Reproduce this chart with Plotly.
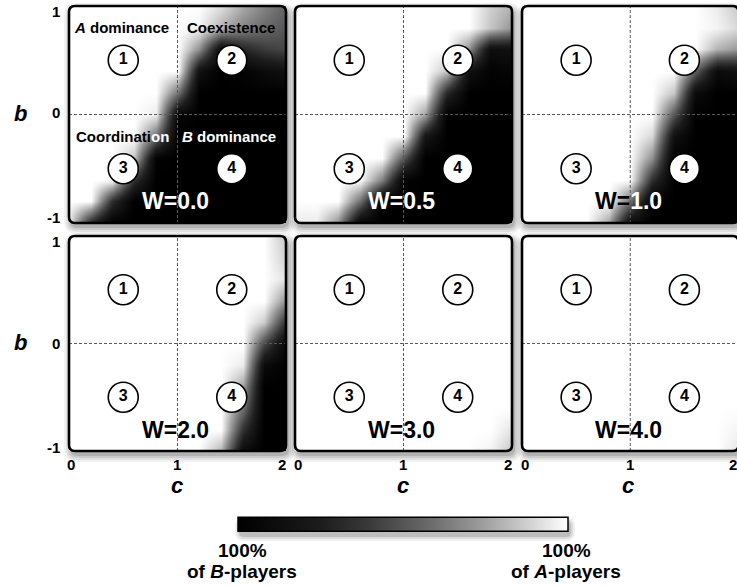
import plotly.graph_objects as go

W_PX, H_PX = 737, 586

# ---------------- data ----------------
C_VALUES = [0.0, 0.2, 0.4, 0.6, 0.8, 1.0, 1.2, 1.4, 1.6, 1.8, 2.0]
B_VALUES_TOP_DOWN = [1.0, 0.8, 0.6, 0.4, 0.2, 0.0, -0.2, -0.4, -0.6, -0.8, -1.0]
W_LABELS = ["W=0.0", "W=0.5", "W=1.0", "W=2.0", "W=3.0", "W=4.0"]

# fraction of A-players (1 = 100% A, 0 = 100% B); rows from b=1 (top) to b=-1 (bottom)
Z_W00 = [
    [1, 1, 1, 1, 1, 1, 1, 0.92, 0.78, 0.66, 0.55],
    [1, 1, 1, 1, 1, 1, 0.97, 0.80, 0.66, 0.58, 0.50],
    [1, 1, 1, 1, 1, 1, 0.70, 0.10, 0.30, 0.40, 0.45],
    [1, 1, 1, 1, 1, 1, 0.15, 0, 0.03, 0.10, 0.15],
    [1, 1, 1, 1, 1, 0.60, 0, 0, 0, 0, 0],
    [1, 1, 1, 1, 0.95, 0.05, 0, 0, 0, 0, 0],
    [1, 1, 1, 1, 0.60, 0, 0, 0, 0, 0, 0],
    [1, 1, 1, 0.85, 0.02, 0, 0, 0, 0, 0, 0],
    [1, 1, 1, 0.35, 0, 0, 0, 0, 0, 0, 0],
    [1, 1, 0.35, 0, 0, 0, 0, 0, 0, 0, 0],
    [0.95, 0.30, 0, 0, 0, 0, 0, 0, 0, 0, 0],
]
Z_W05 = [
    [1, 1, 1, 1, 1, 1, 1, 1, 1, 0.88, 0.80],
    [1, 1, 1, 1, 1, 1, 1, 1, 1, 0.85, 0.72],
    [1, 1, 1, 1, 1, 1, 1, 1, 0.70, 0.12, 0.15],
    [1, 1, 1, 1, 1, 1, 1, 0.85, 0.15, 0.02, 0.05],
    [1, 1, 1, 1, 1, 1, 1, 0.30, 0, 0, 0],
    [1, 1, 1, 1, 1, 1, 0.75, 0, 0, 0, 0],
    [1, 1, 1, 1, 1, 1, 0.20, 0, 0, 0, 0],
    [1, 1, 1, 1, 1, 0.50, 0, 0, 0, 0, 0],
    [1, 1, 1, 1, 0.65, 0.02, 0, 0, 0, 0, 0],
    [1, 1, 1, 0.60, 0, 0, 0, 0, 0, 0, 0],
    [0.95, 0.95, 0.70, 0.05, 0, 0, 0, 0, 0, 0, 0],
]
Z_W10 = [
    [1, 1, 1, 1, 1, 1, 1, 1, 1, 0.95, 0.85],
    [1, 1, 1, 1, 1, 1, 1, 1, 1, 0.97, 0.90],
    [1, 1, 1, 1, 1, 1, 1, 1, 1, 0.80, 0.72],
    [1, 1, 1, 1, 1, 1, 1, 1, 0.55, 0.10, 0.15],
    [1, 1, 1, 1, 1, 1, 1, 0.85, 0.10, 0, 0],
    [1, 1, 1, 1, 1, 1, 1, 0.50, 0, 0, 0],
    [1, 1, 1, 1, 1, 1, 0.90, 0.15, 0, 0, 0],
    [1, 1, 1, 1, 1, 1, 0.70, 0, 0, 0, 0],
    [1, 1, 1, 1, 1, 1, 0.35, 0, 0, 0, 0],
    [1, 1, 1, 1, 1, 0.60, 0, 0, 0, 0, 0],
    [1, 1, 1, 1, 0.75, 0.10, 0, 0, 0, 0, 0],
]
Z_W20 = [
    [1, 1, 1, 1, 1, 1, 1, 1, 1, 1, 0.85],
    [1, 1, 1, 1, 1, 1, 1, 1, 1, 1, 0.88],
    [1, 1, 1, 1, 1, 1, 1, 1, 1, 1, 0.93],
    [1, 1, 1, 1, 1, 1, 1, 1, 1, 1, 0.70],
    [1, 1, 1, 1, 1, 1, 1, 1, 1, 0.87, 0.35],
    [1, 1, 1, 1, 1, 1, 1, 1, 1, 0.45, 0.05],
    [1, 1, 1, 1, 1, 1, 1, 1, 0.95, 0.10, 0],
    [1, 1, 1, 1, 1, 1, 1, 1, 0.75, 0, 0],
    [1, 1, 1, 1, 1, 1, 1, 1, 0.60, 0, 0],
    [1, 1, 1, 1, 1, 1, 1, 1, 0.35, 0, 0],
    [1, 1, 1, 1, 1, 1, 1, 0.80, 0.10, 0, 0],
]
Z_W30 = [
    [1, 1, 1, 1, 1, 1, 1, 1, 1, 1, 1],
    [1, 1, 1, 1, 1, 1, 1, 1, 1, 1, 1],
    [1, 1, 1, 1, 1, 1, 1, 1, 1, 1, 1],
    [1, 1, 1, 1, 1, 1, 1, 1, 1, 1, 1],
    [1, 1, 1, 1, 1, 1, 1, 1, 1, 1, 1],
    [1, 1, 1, 1, 1, 1, 1, 1, 1, 1, 1],
    [1, 1, 1, 1, 1, 1, 1, 1, 1, 1, 1],
    [1, 1, 1, 1, 1, 1, 1, 1, 1, 1, 1],
    [1, 1, 1, 1, 1, 1, 1, 1, 1, 1, 1],
    [1, 1, 1, 1, 1, 1, 1, 1, 1, 1, 0.93],
    [1, 1, 1, 1, 1, 1, 1, 1, 1, 0.97, 0.85],
]
Z_W40 = [
    [1, 1, 1, 1, 1, 1, 1, 1, 1, 1, 1],
    [1, 1, 1, 1, 1, 1, 1, 1, 1, 1, 1],
    [1, 1, 1, 1, 1, 1, 1, 1, 1, 1, 1],
    [1, 1, 1, 1, 1, 1, 1, 1, 1, 1, 1],
    [1, 1, 1, 1, 1, 1, 1, 1, 1, 1, 1],
    [1, 1, 1, 1, 1, 1, 1, 1, 1, 1, 1],
    [1, 1, 1, 1, 1, 1, 1, 1, 1, 1, 1],
    [1, 1, 1, 1, 1, 1, 1, 1, 1, 1, 1],
    [1, 1, 1, 1, 1, 1, 1, 1, 1, 1, 1],
    [1, 1, 1, 1, 1, 1, 1, 1, 1, 1, 0.97],
    [1, 1, 1, 1, 1, 1, 1, 1, 1, 1, 0.93],
]
Z_PANELS = [Z_W00, Z_W05, Z_W10, Z_W20, Z_W30, Z_W40]

REGION_NUMBERS = ["1", "2", "3", "4"]
REGION_C = [0.5, 1.5, 0.5, 1.5]
REGION_B = [0.5, 0.5, -0.5, -0.5]
REGION_NAMES = ["<i>A</i> dominance", "Coexistence",
                "Coordinati<span style='color:white'>on</span>", "<i>B</i> dominance"]
REGION_NAME_COLORS = ["black", "black", "black", "white"]
X_TICKS = ["0", "1", "2"]
Y_TICKS = ["1", "0", "-1"]

# ---------------- layout helpers ----------------
FONT = "Liberation Sans, Arial, Helvetica, sans-serif"
COLS = [(69, 286), (295, 512), (522, 737)]
ROWS = [(6, 223), (236, 451)]
COL3_RIGHT_TRUE = 738.5  # frame continues slightly beyond the window


def px(x):
    return x / W_PX


def py(y):
    return 1 - y / H_PX


def rr_path(x0, y0, x1, y1, r):
    pts = [
        ("M", [(x0 + r, y0)]), ("L", [(x1 - r, y0)]), ("Q", [(x1, y0), (x1, y0 + r)]),
        ("L", [(x1, y1 - r)]), ("Q", [(x1, y1), (x1 - r, y1)]),
        ("L", [(x0 + r, y1)]), ("Q", [(x0, y1), (x0, y1 - r)]),
        ("L", [(x0, y0 + r)]), ("Q", [(x0, y0), (x0 + r, y0)]),
    ]
    s = ""
    for cmd, ps in pts:
        s += cmd + " " + " ".join(f"{px(a):.5f},{py(b):.5f}" for a, b in ps) + " "
    return s + "Z"


COLORSCALE = [
    [0.0, "#000000"], [0.25, "#1c1c1c"], [0.4, "#3a3a3a"], [0.5, "#555555"],
    [0.6, "#707070"], [0.75, "#a0a0a0"], [0.9, "#d8d8d8"], [1.0, "#ffffff"],
]

fig = go.Figure()
shapes = []
annotations = []

B_ASC = B_VALUES_TOP_DOWN[::-1]

for k in range(6):
    r, c = divmod(k, 3)
    n = k + 1
    xa = "x" if n == 1 else f"x{n}"
    ya = "y" if n == 1 else f"y{n}"
    x0, x1 = COLS[c]
    y0, y1 = ROWS[r]
    xmax = 2.0 if c < 2 else 2.0 * (x1 - x0) / (COL3_RIGHT_TRUE - x0)

    fig.add_trace(go.Heatmap(
        x=C_VALUES, y=B_ASC, z=Z_PANELS[k][::-1], coloraxis="coloraxis",
        zsmooth="best", xaxis=xa, yaxis=ya, hoverinfo="skip",
    ))
    fig.add_trace(go.Scatter(
        x=REGION_C, y=REGION_B, mode="markers+text",
        text=[f"<b>{t}</b>" for t in REGION_NUMBERS], textposition="middle center",
        textfont=dict(family=FONT, size=16, color="black"),
        marker=dict(size=30, color="white", line=dict(color="black", width=1.6)),
        xaxis=xa, yaxis=ya, showlegend=False, hoverinfo="skip",
    ))

    axkw = dict(showgrid=False, zeroline=False, showticklabels=False, ticks="",
                showline=False, fixedrange=True)
    fig.layout[("xaxis" if n == 1 else f"xaxis{n}")] = dict(
        domain=[px(x0), px(x1)], range=[0, xmax], anchor=ya, **axkw)
    fig.layout[("yaxis" if n == 1 else f"yaxis{n}")] = dict(
        domain=[py(y1), py(y0)], range=[-1, 1], anchor=xa, **axkw)

    # dashed quadrant lines
    shapes.append(dict(type="line", xref=xa, yref=ya, x0=1, x1=1, y0=-1, y1=1,
                       line=dict(color="#5a5a5a", width=1, dash="3px,2px"), layer="above"))
    shapes.append(dict(type="line", xref=xa, yref=ya, x0=0, x1=2, y0=0, y1=0,
                       line=dict(color="#5a5a5a", width=1, dash="3px,2px"), layer="above"))

    # soft drop shadow
    xr = x1 if c < 2 else COL3_RIGHT_TRUE
    for grow, alpha in [(7, 0.05), (5, 0.07), (3, 0.09), (1, 0.12)]:
        shapes.append(dict(type="path", xref="paper", yref="paper", layer="below",
                           path=rr_path(x0 - grow + 2, y0 - grow + 4, xr + grow + 2, y1 + grow + 4, 6 + grow),
                           fillcolor=f"rgba(0,0,0,{alpha})", line=dict(width=0)))
    # rounded frame
    shapes.append(dict(type="path", xref="paper", yref="paper", layer="above",
                       path=rr_path(x0, y0, xr, y1, 6), fillcolor="rgba(0,0,0,0)",
                       line=dict(color="black", width=2.6)))

    # W label
    wl = W_LABELS[k]
    if k in (0, 1):
        wtxt = f"<b>{wl}</b>"
        wcol = "white"
    elif k == 2:
        wtxt = f"<b>{wl[:2]}<span style='color:white'>{wl[2:]}</span></b>"
        wcol = "black"
    else:
        wtxt = f"<b>{wl}</b>"
        wcol = "black"
    annotations.append(dict(x=0.98, y=-0.8, xref=xa, yref=ya, text=wtxt, showarrow=False,
                            font=dict(family=FONT, size=23, color=wcol),
                            xanchor="center", yanchor="middle"))

    if k == 0:
        for t, cx, by, col in zip(REGION_NAMES, [0.48, 1.49, 0.49, 1.47],
                                  [0.8, 0.8, -0.2, -0.2], REGION_NAME_COLORS):
            annotations.append(dict(x=cx, y=by, xref=xa, yref=ya, text=f"<b>{t}</b>",
                                    showarrow=False, xanchor="center", yanchor="middle",
                                    font=dict(family=FONT, size=15, color=col)))

# y tick labels and axis titles
for (ry0, ry1), ypos in zip(ROWS, [[12, 113, 217], [242, 343, 447]]):
    for lab, yy in zip(Y_TICKS, ypos):
        annotations.append(dict(x=px(62), y=py(yy), xref="paper", yref="paper",
                                text=f"<b>{lab}</b>", showarrow=False, xanchor="right",
                                yanchor="middle", font=dict(family=FONT, size=15, color="black")))
    annotations.append(dict(x=px(20), y=py((ry0 + ry1) / 2 - 1), xref="paper", yref="paper",
                            text="<b><i>b</i></b>", showarrow=False, xanchor="center",
                            yanchor="middle", font=dict(family=FONT, size=22, color="black")))

# x tick labels and axis titles
for xpos, cc in zip([[71, 177, 282], [298, 403, 508], [525, 630, 733]], [177, 403, 628]):
    for lab, xx in zip(X_TICKS, xpos):
        annotations.append(dict(x=px(xx), y=py(464), xref="paper", yref="paper",
                                text=f"<b>{lab}</b>", showarrow=False, xanchor="center",
                                yanchor="middle", font=dict(family=FONT, size=15, color="black")))
    annotations.append(dict(x=px(cc), y=py(485), xref="paper", yref="paper",
                            text="<b><i>c</i></b>", showarrow=False, xanchor="center",
                            yanchor="middle", font=dict(family=FONT, size=22, color="black")))

# colorbar labels
for xx, who in [(242, "B"), (566, "A")]:
    annotations.append(dict(x=px(xx), y=py(550), xref="paper", yref="paper",
                            text="<b>100%</b>", showarrow=False, xanchor="center",
                            yanchor="middle", font=dict(family=FONT, size=19, color="black")))
    annotations.append(dict(x=px(xx), y=py(571), xref="paper", yref="paper",
                            text=f"<b>of <i>{who}</i>-players</b>", showarrow=False,
                            xanchor="center", yanchor="middle",
                            font=dict(family=FONT, size=19, color="black")))

# colorbar shadow
for grow, alpha in [(5, 0.06), (3, 0.09), (1, 0.13)]:
    shapes.append(dict(type="path", xref="paper", yref="paper", layer="below",
                       path=rr_path(238 - grow + 2, 518 - grow + 4, 568 + grow + 2, 532 + grow + 4, 4 + grow),
                       fillcolor=f"rgba(0,0,0,{alpha})", line=dict(width=0)))

fig.update_layout(
    width=W_PX, height=H_PX,
    margin=dict(l=0, r=0, t=0, b=0),
    paper_bgcolor="white", plot_bgcolor="rgba(0,0,0,0)",
    showlegend=False,
    shapes=shapes, annotations=annotations,
    coloraxis=dict(
        cmin=0, cmax=1, colorscale=COLORSCALE,
        colorbar=dict(orientation="h", x=px(403), xanchor="center",
                      y=py(525), yanchor="middle", len=330, lenmode="pixels",
                      thickness=14, thicknessmode="pixels", outlinewidth=1.5,
                      outlinecolor="black", showticklabels=False, ticks="",
                      xpad=0, ypad=0, borderwidth=0, bgcolor="rgba(0,0,0,0)"),
    ),
)

fig.write_html("out.html", config={"displayModeBar": False},
               post_script="document.body.style.margin='0';document.body.style.padding='0';")
